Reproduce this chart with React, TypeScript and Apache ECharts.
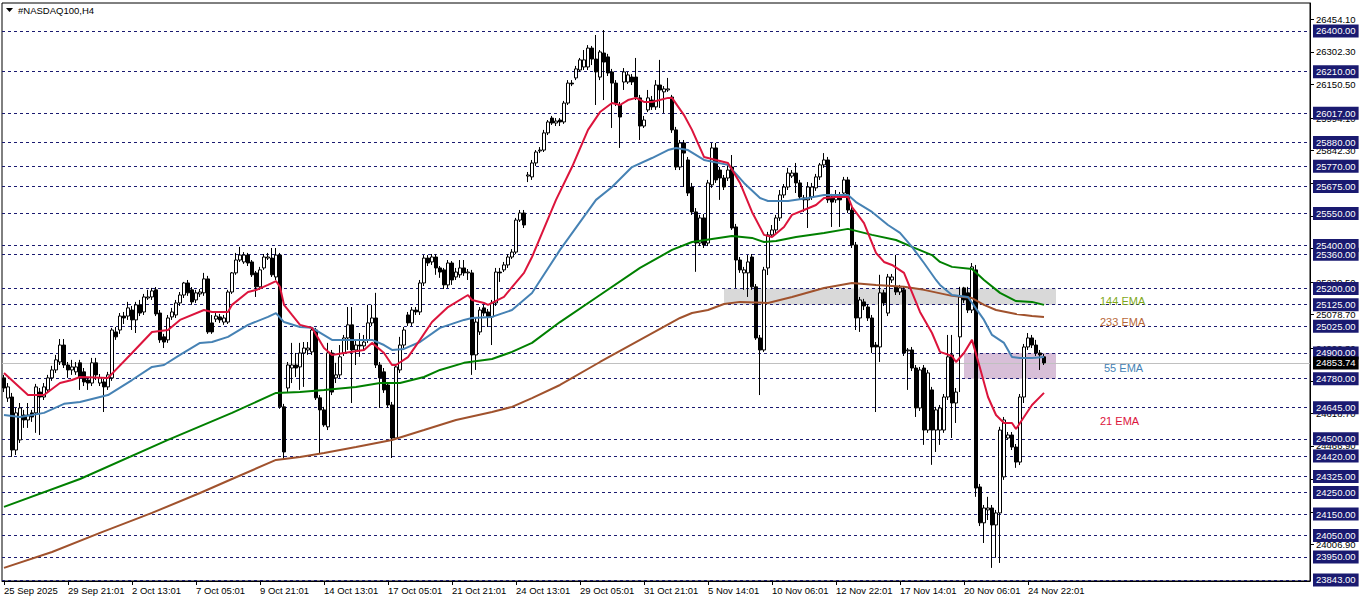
import React, { useEffect, useRef } from 'react';
import * as echarts from 'echarts';

// Time axis tick labels (every 16 H4 bars)
const xTickLabels = ['25 Sep 2025', '29 Sep 21:01', '2 Oct 13:01', '7 Oct 05:01', '9 Oct 21:01', '14 Oct 13:01', '17 Oct 05:01', '21 Oct 21:01', '24 Oct 13:01', '29 Oct 05:01', '31 Oct 21:01', '5 Nov 14:01', '10 Nov 06:01', '12 Nov 22:01', '17 Nov 14:01', '20 Nov 06:01', '24 Nov 22:01'];

// H4 candles: [open, close, low, high]
const ohlc = [
  [24784, 24737, 24718, 24798], [24690, 24742, 24672, 24760], [24695, 24448, 24416, 24714], [24448, 24621, 24425, 24644],
  [24495, 24644, 24481, 24667], [24611, 24588, 24551, 24635], [24588, 24611, 24551, 24667], [24621, 24602, 24579, 24635],
  [24621, 24742, 24528, 24756], [24718, 24695, 24518, 24737], [24695, 24742, 24681, 24760], [24728, 24784, 24714, 24798],
  [24784, 24821, 24770, 24840], [24821, 24868, 24807, 24891], [24858, 24937, 24844, 24965], [24937, 24844, 24830, 24965],
  [24844, 24821, 24784, 24858], [24821, 24835, 24798, 24868], [24812, 24835, 24798, 24858], [24854, 24788, 24728, 24868],
  [24812, 24765, 24746, 24830], [24774, 24760, 24728, 24788], [24760, 24854, 24746, 24877], [24854, 24798, 24774, 24877],
  [24760, 24784, 24746, 24802], [24765, 24742, 24625, 24779], [24742, 24798, 24728, 24812], [24784, 25007, 24770, 25017],
  [24998, 24975, 24961, 25021], [25007, 25072, 24989, 25086], [25072, 25063, 25035, 25091], [25072, 25110, 25054, 25138],
  [25100, 25054, 25007, 25119], [25054, 25124, 24993, 25138], [25124, 25086, 25072, 25147], [25091, 25161, 25077, 25175],
  [25156, 25161, 25147, 25194], [25161, 25189, 25147, 25203], [25194, 25082, 25072, 25207], [25086, 24961, 24947, 25100],
  [24975, 24951, 24923, 24989], [24961, 25063, 24947, 25077], [25068, 25091, 25054, 25110], [25077, 25133, 25063, 25147],
  [25133, 25170, 25119, 25184], [25170, 25226, 25156, 25231], [25226, 25180, 25166, 25240], [25194, 25138, 25124, 25207],
  [25147, 25180, 25133, 25194], [25175, 25184, 25161, 25198], [25180, 25245, 25166, 25273], [25245, 24998, 24989, 25259],
  [25040, 24998, 24989, 25077], [25058, 25072, 25044, 25086], [25068, 25054, 25040, 25082], [25044, 25063, 25031, 25077],
  [25044, 25184, 25035, 25194], [25184, 25273, 25175, 25277], [25273, 25333, 25264, 25366], [25333, 25356, 25324, 25394],
  [25324, 25356, 25315, 25370], [25356, 25319, 25305, 25366], [25324, 25264, 25254, 25333], [25273, 25208, 25161, 25282],
  [25208, 25287, 25194, 25301], [25296, 25347, 25287, 25361], [25342, 25347, 25333, 25366], [25342, 25264, 25254, 25389],
  [25254, 25356, 25240, 25389], [25356, 24649, 24640, 25366], [24649, 24439, 24402, 24663], [24737, 24844, 24718, 24858],
  [24830, 24844, 24760, 24947], [24844, 24830, 24788, 24900], [24835, 24900, 24728, 24947], [24900, 24923, 24742, 24951],
  [24914, 24923, 24891, 24951], [24905, 25007, 24891, 25021], [25007, 24691, 24681, 25017], [24691, 24635, 24434, 24704],
  [24635, 24565, 24556, 24649], [24556, 24900, 24541, 24947], [24900, 24718, 24704, 24914], [24784, 24798, 24760, 24854],
  [24798, 24882, 24784, 24937], [24900, 24970, 24886, 24984], [24970, 25031, 24914, 25114], [25031, 24914, 24667, 25114],
  [24914, 24937, 24844, 24961], [24937, 24933, 24882, 24993], [24933, 24951, 24914, 24984], [24961, 25040, 24947, 25124],
  [25040, 25063, 25026, 25124], [25063, 24844, 24830, 25180], [24844, 24784, 24644, 24858], [24812, 24728, 24714, 24830],
  [24751, 24658, 24644, 24765], [24658, 24504, 24411, 24672], [24504, 24835, 24495, 24844], [24821, 24937, 24807, 24975],
  [24937, 25007, 24923, 25021], [25077, 25040, 25026, 25091], [25040, 25100, 25026, 25114], [25100, 25091, 25077, 25114],
  [25091, 25226, 25077, 25240], [25226, 25342, 25212, 25356], [25342, 25319, 25305, 25356], [25324, 25347, 25310, 25361],
  [25347, 25296, 25264, 25361], [25296, 25277, 25250, 25305], [25287, 25217, 25198, 25296], [25217, 25319, 25203, 25333],
  [25319, 25240, 25217, 25328], [25254, 25277, 25240, 25296], [25264, 25296, 25250, 25333], [25296, 25273, 25259, 25333],
  [25273, 25277, 25240, 25291], [25273, 24891, 24798, 25287], [24891, 25044, 24821, 25063], [24998, 25100, 24984, 25114],
  [25110, 25086, 25072, 25124], [25091, 25068, 25021, 25105], [25068, 25133, 24937, 25147], [25133, 25277, 25119, 25296],
  [25277, 25273, 25231, 25296], [25287, 25310, 25277, 25324], [25310, 25347, 25296, 25361], [25347, 25370, 25338, 25384],
  [25370, 25519, 25361, 25529], [25519, 25552, 25510, 25566], [25552, 25496, 25482, 25566], [25724, 25729, 25696, 25743],
  [25720, 25785, 25706, 25799], [25785, 25836, 25771, 25845], [25841, 25845, 25831, 25859], [25845, 25925, 25836, 25939],
  [25925, 25976, 25915, 25985], [25994, 25971, 25962, 26004], [25971, 25980, 25957, 25994], [25985, 25976, 25957, 25994],
  [25976, 26064, 25967, 26074], [26064, 26157, 26055, 26171], [26157, 26153, 26143, 26171], [26181, 26223, 26171, 26237],
  [26218, 26265, 26209, 26274], [26232, 26265, 26218, 26311], [26232, 26320, 26218, 26334], [26320, 26269, 26241, 26330],
  [26269, 26209, 26055, 26381], [26185, 26302, 26171, 26311], [26297, 26255, 26078, 26404], [26279, 26204, 26190, 26293],
  [26209, 26157, 25948, 26223], [26157, 26064, 26050, 26171], [26055, 25999, 25855, 26069], [26162, 26209, 26125, 26227],
  [26162, 26195, 26153, 26209], [26185, 26162, 26148, 26199], [26185, 26092, 26078, 26274], [26088, 25957, 25892, 26102],
  [25957, 25985, 25948, 26004], [26032, 26088, 26022, 26125], [26078, 26046, 26032, 26097], [26046, 26148, 26032, 26171],
  [26148, 26125, 26041, 26265], [26116, 26130, 26018, 26143], [26125, 26130, 26116, 26181], [26092, 25939, 25925, 26102],
  [25939, 25766, 25752, 25953], [25766, 25878, 25752, 25892], [25878, 25831, 25673, 25892], [25799, 25645, 25631, 25813],
  [25673, 25557, 25543, 25692], [25557, 25412, 25278, 25575], [25412, 25529, 25398, 25543], [25529, 25403, 25389, 25547],
  [25412, 25692, 25398, 25706], [25683, 25855, 25669, 25878], [25855, 25706, 25692, 25878], [25752, 25715, 25613, 25766],
  [25715, 25673, 25659, 25729], [25715, 25752, 25701, 25776], [25766, 25482, 25473, 25822], [25487, 25333, 25203, 25501],
  [25333, 25287, 25273, 25347], [25273, 25287, 25194, 25301], [25273, 25324, 25161, 25356], [25347, 25208, 25194, 25361],
  [25208, 24970, 24961, 25221], [24970, 24914, 24704, 24984], [24914, 25287, 24905, 25301], [25296, 25450, 25263, 25464],
  [25450, 25473, 25440, 25496], [25473, 25529, 25459, 25543], [25529, 25636, 25515, 25659], [25636, 25673, 25622, 25687],
  [25673, 25738, 25659, 25762], [25724, 25738, 25715, 25752], [25738, 25692, 25645, 25785], [25692, 25627, 25613, 25706],
  [25622, 25613, 25557, 25636], [25613, 25673, 25482, 25696], [25627, 25673, 25613, 25692], [25669, 25720, 25655, 25734],
  [25720, 25776, 25706, 25785], [25776, 25799, 25762, 25831], [25799, 25613, 25599, 25813], [25627, 25603, 25487, 25641],
  [25613, 25636, 25599, 25659], [25636, 25613, 25487, 25650], [25645, 25706, 25631, 25720], [25706, 25566, 25552, 25720],
  [25566, 25403, 25389, 25580], [25403, 25063, 25007, 25417], [25063, 25147, 24998, 25161], [25138, 25119, 25100, 25152],
  [25114, 25063, 25049, 25128], [25063, 24928, 24900, 25077], [24937, 24928, 24625, 24951], [24928, 25180, 24858, 25264],
  [25180, 25133, 25119, 25194], [25086, 25254, 25072, 25268], [25240, 25254, 25226, 25268], [25208, 25184, 25170, 25356],
  [25184, 25203, 25170, 25217], [25194, 24900, 24886, 25207], [24910, 24914, 24728, 24923], [24914, 24830, 24816, 24928],
  [24830, 24644, 24602, 24844], [24644, 24821, 24630, 24835], [24830, 24541, 24472, 24844], [24541, 24807, 24528, 24821],
  [24728, 24541, 24379, 24742], [24541, 24635, 24439, 24649], [24541, 24644, 24472, 24658], [24541, 24695, 24528, 24709],
  [24695, 24882, 24681, 24984], [24891, 24667, 24504, 24984], [24667, 24718, 24574, 24737], [24975, 25161, 24718, 25208],
  [25203, 25147, 25133, 25208], [25180, 25100, 25086, 25208], [25100, 25301, 25086, 25319], [25287, 24271, 24230, 25310],
  [24276, 24109, 24094, 24290], [24109, 24178, 24015, 24192], [24169, 24178, 24122, 24230], [24178, 24099, 23899, 24192],
  [24099, 24155, 23946, 24169], [24155, 24541, 23922, 24556], [24323, 24588, 24309, 24602], [24504, 24518, 24495, 24532],
  [24518, 24462, 24448, 24532], [24462, 24392, 24365, 24476], [24392, 24695, 24378, 24709], [24695, 24928, 24667, 24942],
  [24928, 24970, 24914, 24993], [24970, 24937, 24923, 24984], [24937, 24900, 24886, 24961], [24900, 24891, 24821, 24914],
  [24882, 24853.74, 24844, 24896],
];

// Moving averages: [bar index, value]
const ema21 = [[0, 24807], [6, 24704], [10, 24704], [14, 24760], [17, 24774], [19, 24788], [26, 24784], [32, 24900], [37, 24998], [41, 25007], [44, 25054], [50, 25100], [52, 25091], [56, 25091], [57, 25124], [61, 25184], [63, 25193], [66, 25217], [68, 25235], [69, 25207], [70, 25124], [72, 25077], [74, 25031], [77, 25017], [80, 24923], [82, 24891], [85, 24900], [90, 24914], [92, 24947], [95, 24900], [97, 24844], [98, 24844], [101, 24881], [104, 24961], [107, 25044], [111, 25114], [116, 25170], [117, 25147], [120, 25133], [121, 25124], [125, 25161], [127, 25207], [130, 25273], [132, 25347], [138, 25613], [142, 25766], [146, 25939], [149, 26022], [152, 26064], [154, 26055], [156, 26078], [158, 26088], [160, 26069], [162, 26069], [166, 26088], [167, 26088], [170, 26008], [172, 25939], [175, 25813], [181, 25785], [184, 25692], [187, 25557], [190, 25450], [192, 25440], [195, 25487], [197, 25543], [200, 25566], [203, 25589], [205, 25622], [208, 25627], [211, 25627], [212, 25580], [215, 25505], [218, 25366], [220, 25324], [222, 25310], [225, 25273], [229, 25091], [232, 24993], [234, 24905], [237, 24886], [238, 24858], [240, 24900], [242, 24961], [244, 24830], [246, 24695], [248, 24611], [250, 24574], [252, 24574], [253, 24546], [255, 24602], [257, 24658], [260, 24714]];
const ema55 = [[0, 24611], [4, 24602], [7, 24611], [10, 24621], [15, 24663], [19, 24672], [24, 24695], [26, 24704], [32, 24774], [37, 24835], [40, 24844], [44, 24891], [49, 24947], [52, 24951], [56, 24975], [61, 25031], [66, 25068], [68, 25086], [70, 25044], [74, 25021], [77, 25017], [82, 24961], [92, 24961], [95, 24937], [97, 24914], [100, 24919], [104, 24951], [109, 25017], [115, 25054], [117, 25063], [122, 25068], [127, 25100], [132, 25179], [139, 25380], [148, 25613], [152, 25673], [157, 25766], [162, 25808], [166, 25845], [168, 25855], [171, 25845], [175, 25799], [181, 25776], [185, 25692], [189, 25622], [191, 25608], [196, 25608], [201, 25622], [205, 25636], [211, 25636], [213, 25603], [217, 25557], [221, 25496], [224, 25459], [227, 25394], [230, 25319], [233, 25240], [234, 25217], [237, 25170], [241, 25161], [242, 25133], [245, 25054], [247, 24984], [250, 24947], [252, 24881], [254, 24877], [257, 24877], [260, 24881]];
const ema144 = [[0, 24183], [19, 24313], [41, 24495], [57, 24621], [68, 24714], [74, 24718], [80, 24728], [88, 24742], [94, 24760], [99, 24760], [105, 24788], [109, 24821], [115, 24854], [122, 24872], [127, 24905], [132, 24947], [139, 25044], [149, 25170], [159, 25296], [167, 25380], [172, 25417], [177, 25431], [182, 25445], [187, 25436], [190, 25417], [193, 25422], [198, 25440], [205, 25459], [211, 25478], [217, 25450], [223, 25426], [227, 25394], [232, 25356], [234, 25324], [237, 25301], [242, 25291], [245, 25240], [249, 25180], [253, 25142], [257, 25138], [260, 25124]];
const ema233 = [[0, 23899], [12, 23973], [24, 24062], [37, 24155], [49, 24248], [57, 24313], [68, 24402], [74, 24416], [80, 24434], [88, 24462], [97, 24495], [105, 24541], [113, 24588], [122, 24625], [127, 24649], [132, 24690], [139, 24751], [149, 24858], [159, 24961], [169, 25063], [172, 25086], [176, 25100], [180, 25128], [184, 25138], [191, 25133], [197, 25161], [205, 25203], [212, 25226], [218, 25217], [225, 25208], [230, 25194], [237, 25166], [242, 25156], [245, 25124], [248, 25100], [253, 25082], [257, 25072], [260, 25068]];

// Horizontal price levels with boxed labels
const levels = [23843, 23950, 24050, 24150, 24250, 24325, 24420, 24500, 24645, 24780, 24900, 25025, 25125, 25200, 25360, 25400, 25550, 25675, 25770, 25880, 26017, 26210, 26400];
const bidPrice = 24853.74;
// Price scale labels
const priceTicks = [26454.1, 26302.3, 26150.5, 25994.1, 25842.3, 25690.5, 25538.7, 25386.9, 25230.5, 25078.7, 24922.3, 24770.5, 24618.7, 24466.9, 24310.5, 24158.7, 24006.9];
// Zones: [fromBar, toBar, priceHigh, priceLow]
const greyZone = [180, 263, 25200, 25125];
const purpleZone = [240, 263, 24900, 24780];
// EMA captions: [text, bar, price]
const emaCaptions = [['144 EMA', 274, 25142], ['233 EMA', 274, 25045], ['55 EMA', 275, 24830], ['21 EMA', 274, 24583]];

const SLOTS = 327;
const FONT = 'Liberation Sans';

export default function App() {
  const ref = useRef<HTMLDivElement>(null);
  useEffect(() => {
    const chart = echarts.init(ref.current as HTMLDivElement, null, { renderer: 'svg' });
    const slots = Array.from({ length: SLOTS }, (_, i) => String(i));
    const captionColors = ['#7fa81a', '#b8693a', '#4682b4', '#dc143c'];
    const showTick = (index: number) => index % 16 === 0 && index / 16 < xTickLabels.length;
    chart.setOption({
      animation: false,
      textStyle: { fontFamily: FONT },
      title: {
        text: '#NASDAQ100,H4', left: 18, top: 5, padding: 0,
        textStyle: { fontSize: 9.5, fontWeight: 'normal', color: '#000', fontFamily: FONT },
      },
      graphic: [
        { type: 'polygon', shape: { points: [[6, 8], [13, 8], [9.5, 12]] }, style: { fill: '#000' } },
      ],
      grid: {
        left: 2, right: 52, top: 3, bottom: 22, show: true, borderColor: '#000', borderWidth: 1,
        backgroundColor: '#fff', outerBoundsMode: 'none',
      },
      xAxis: {
        type: 'category', data: slots, boundaryGap: true,
        axisLine: { show: true, lineStyle: { color: '#000', width: 1 } },
        axisTick: { show: true, alignWithLabel: true, interval: (i: number) => showTick(i), length: 4, lineStyle: { color: '#000' } },
        axisLabel: {
          show: true, interval: (i: number) => showTick(i), align: 'left', margin: 4,
          color: '#000', fontSize: 9.5, fontFamily: FONT,
          formatter: (_v: string, i: number) => (showTick(i) ? xTickLabels[i / 16] : ''),
        },
        splitLine: { show: false },
      },
      yAxis: {
        type: 'value', position: 'right', min: 23838, max: 26530,
        axisLine: { show: true, lineStyle: { color: '#000' } },
        axisTick: { show: true, length: 4, customValues: priceTicks, lineStyle: { color: '#000' } },
        axisLabel: {
          show: true, customValues: priceTicks, margin: 6, color: '#000', fontSize: 9.5, fontFamily: FONT,
          formatter: (v: number) => v.toFixed(2),
        },
        splitLine: { show: false },
      },
      series: [
        {
          type: 'line', data: [], z: 1, clip: false, silent: true,
          markArea: {
            silent: true, z: 1,
            data: [
              [{ xAxis: greyZone[0], yAxis: greyZone[2], itemStyle: { color: '#d9d9d9' } }, { xAxis: greyZone[1], yAxis: greyZone[3] }],
              [{ xAxis: purpleZone[0], yAxis: purpleZone[2], itemStyle: { color: '#d8bfd8' } }, { xAxis: purpleZone[1], yAxis: purpleZone[3] }],
            ],
          },
        },
        {
          type: 'line', data: [], z: 2, clip: false, silent: true,
          markLine: {
            silent: true, z: 2, symbol: ['none', 'none'], animation: false,
            lineStyle: { type: [3, 3], color: '#1a1a70', width: 1 },
            label: {
              show: true, position: 'end', distance: 3, color: '#fff', backgroundColor: '#1a1a70',
              fontSize: 9.5, fontFamily: FONT, padding: [2, 3, 1, 3], lineHeight: 10,
            },
            data: [
              ...levels.map((v) => ({ yAxis: v, label: { formatter: v.toFixed(2) } })),
              {
                yAxis: bidPrice, lineStyle: { type: 'solid', color: '#c0c0c0', width: 1 },
                label: { formatter: bidPrice.toFixed(2), backgroundColor: '#000', color: '#fff' },
              },
            ],
          },
        },
        {
          type: 'candlestick', data: ohlc, barWidth: 3, z: 3, silent: true,
          itemStyle: { color: '#ffffff', color0: '#000000', borderColor: '#000000', borderColor0: '#000000', borderWidth: 1 },
        },
        { type: 'line', data: ema233, z: 4, showSymbol: false, silent: true, lineStyle: { color: '#a0522d', width: 2 } },
        { type: 'line', data: ema144, z: 4, showSymbol: false, silent: true, lineStyle: { color: '#008000', width: 2 } },
        { type: 'line', data: ema55, z: 4, showSymbol: false, silent: true, lineStyle: { color: '#4682b4', width: 2 } },
        { type: 'line', data: ema21, z: 4, showSymbol: false, silent: true, lineStyle: { color: '#dc143c', width: 2 } },
        {
          type: 'line', data: [], z: 5, clip: false, silent: true,
          markPoint: {
            silent: true, symbol: 'circle', symbolSize: 0, z: 5,
            data: emaCaptions.map((c, k) => ({
              coord: [c[1], c[2]],
              label: {
                show: true, position: 'right', distance: 0, formatter: String(c[0]),
                color: captionColors[k], fontSize: 11, fontFamily: FONT,
              },
            })),
          },
        },
      ],
    });
    return () => chart.dispose();
  }, []);
  return <div ref={ref} style={{ position: 'fixed', left: 0, top: 0, width: 1362, height: 603, background: '#fff' }} />;
}
